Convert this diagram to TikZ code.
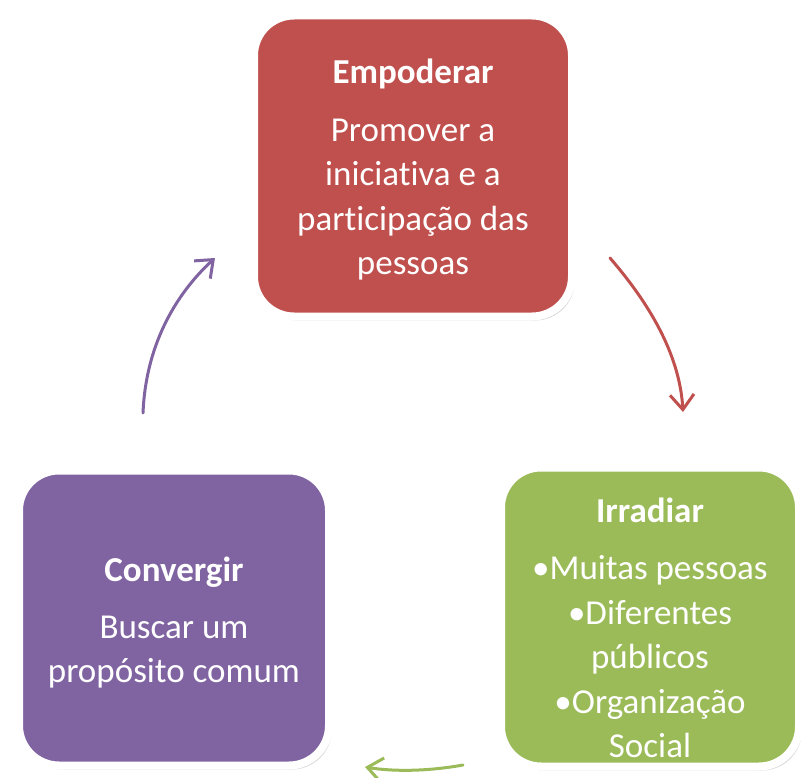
\documentclass[tikz,border=0pt]{standalone}
\usepackage{fontspec}
\setmainfont{Carlito}[Ligatures=NoCommon]
\usetikzlibrary{arrows.meta,shadows}
\definecolor{vermelho}{HTML}{C0504D}
\definecolor{verde}{HTML}{9BBB59}
\definecolor{roxo}{HTML}{8064A2}
\newcommand{\titulo}[1]{{\fontsize{35}{45}\selectfont\bfseries #1}}
\begin{document}
\begin{tikzpicture}[x=1pt,y=-1pt,
	caixa/.style={draw=white,line width=8pt,rounded corners=40pt,
		drop shadow={shadow xshift=3pt,shadow yshift=-4pt,opacity=0.3}},
	texto/.style={text=white,align=center,font=\fontsize{35}{44.5}\selectfont},
	seta/.style={line width=3pt,line cap=round,-{Straight Barb[length=15pt,width=24pt,line width=3pt]}}]
	\useasboundingbox (0,0) rectangle (801,778);
	\node[caixa,fill=vermelho,minimum width=318pt,minimum height=301pt] (empoderar) at (413,166) {};
	\node[caixa,fill=verde,minimum width=298pt,minimum height=299pt] (irradiar) at (650,617) {};
	\node[caixa,fill=roxo,minimum width=310pt,minimum height=295pt] (convergir) at (174,618) {};
	\node[texto] (empoderar-txt) at (413,170)
		{\titulo{Empoderar}\\[13pt] Promover a\\ iniciativa e a\\ participação das\\ pessoas};
	\node[texto] (irradiar-txt) at (650,628)
		{\titulo{Irradiar}\\[13pt] •Muitas pessoas\\ •Diferentes\\ públicos\\ •Organização\\ Social};
	\node[texto] (convergir-txt) at (174,623)
		{\titulo{Convergir}\\[12pt] Buscar um\\ propósito comum};
	\path (610,258) coordinate (r1)
		(683,412) coordinate (r2)
		(463,765) coordinate (g1)
		(365,767) coordinate (g2)
		(143,413) coordinate (p1)
		(215,258) coordinate (p2);
	\draw[seta,vermelho] (r1) .. controls (655,310) and (680,360) .. (r2);
	\draw[seta,verde] (g1) .. controls (430,771) and (395,772) .. (g2);
	\draw[seta,roxo] (p1) .. controls (146,340) and (180,290) .. (p2);
\end{tikzpicture}
\end{document}
